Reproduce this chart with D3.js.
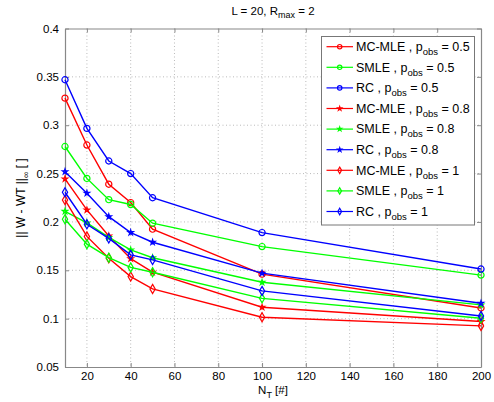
<!DOCTYPE html>
<html><head><meta charset="utf-8">
<script src="https://cdn.jsdelivr.net/npm/d3@7"></script>
<style>
body{margin:0;background:#fff;}
text{font-family:"Liberation Sans",Arial,Helvetica,sans-serif;fill:#000;}
</style></head>
<body><svg id="c" width="494" height="402"></svg>
<script>
const nT = [10, 20, 30, 40, 50, 100, 200];
const mcmle05 = [0.328, 0.2795, 0.239, 0.220, 0.1925, 0.146, 0.111];
const smle05  = [0.278, 0.245, 0.223, 0.218, 0.1987, 0.1745, 0.145];
const rc05    = [0.347, 0.2967, 0.263, 0.250, 0.225, 0.189, 0.1513];
const mcmle08 = [0.2445, 0.2124, 0.1855, 0.162, 0.148, 0.1118, 0.097];
const smle08  = [0.211, 0.199, 0.184, 0.171, 0.163, 0.1376, 0.1142];
const rc08    = [0.252, 0.2297, 0.2055, 0.189, 0.179, 0.147, 0.1159];
const mcmle1  = [0.2227, 0.185, 0.1625, 0.1435, 0.1307, 0.1014, 0.0925];
const smle1   = [0.2028, 0.177, 0.163, 0.153, 0.148, 0.121, 0.1004];
const rc1     = [0.2307, 0.1976, 0.183, 0.1659, 0.1607, 0.1287, 0.1028];
const xTicks = [20, 40, 60, 80, 100, 120, 140, 160, 180, 200];
const yTicks = [0.05, 0.1, 0.15, 0.2, 0.25, 0.3, 0.35, 0.4];
const yTickLabels = ["0.05", "0.1", "0.15", "0.2", "0.25", "0.3", "0.35", "0.4"];

const series = [
  {name:"MC-MLE", p:"0.5", vals:mcmle05, color:"#ff0000", mk:"o"},
  {name:"SMLE",   p:"0.5", vals:smle05,  color:"#00ff00", mk:"o"},
  {name:"RC",     p:"0.5", vals:rc05,    color:"#0000ff", mk:"o"},
  {name:"MC-MLE", p:"0.8", vals:mcmle08, color:"#ff0000", mk:"p"},
  {name:"SMLE",   p:"0.8", vals:smle08,  color:"#00ff00", mk:"p"},
  {name:"RC",     p:"0.8", vals:rc08,    color:"#0000ff", mk:"p"},
  {name:"MC-MLE", p:"1",   vals:mcmle1,  color:"#ff0000", mk:"d"},
  {name:"SMLE",   p:"1",   vals:smle1,   color:"#00ff00", mk:"d"},
  {name:"RC",     p:"1",   vals:rc1,     color:"#0000ff", mk:"d"}
];

const L = 65, R = 481, T = 28.5, B = 367;
const svg = d3.select("#c");
const x = d3.scaleLinear().domain([10, 200]).range([L, R]);
const y = d3.scaleLinear().domain([0.05, 0.4]).range([B, T]);

// grid
const g = svg.append("g");
g.selectAll(".gx").data(xTicks.slice(0, -1)).enter().append("line")
  .attr("x1", d => x(d)).attr("x2", d => x(d)).attr("y1", T).attr("y2", B)
  .attr("stroke", "#aaa").attr("stroke-width", 0.8).attr("stroke-dasharray", "1,2.5");
g.selectAll(".gy").data(yTicks.slice(1, -1)).enter().append("line")
  .attr("x1", L).attr("x2", R).attr("y1", d => y(d)).attr("y2", d => y(d))
  .attr("stroke", "#aaa").attr("stroke-width", 0.8).attr("stroke-dasharray", "1,2.5");

// axes
const axB = svg.append("g").attr("transform", `translate(0,${B})`)
  .call(d3.axisBottom(x).tickValues(xTicks).tickSizeInner(-4).tickSizeOuter(0).tickPadding(5).tickFormat(d3.format("d")));
const axL = svg.append("g").attr("transform", `translate(${L},0)`)
  .call(d3.axisLeft(y).tickValues(yTicks).tickSizeInner(-4).tickSizeOuter(0).tickPadding(6).tickFormat((d,i) => yTickLabels[i]));
const axT = svg.append("g").attr("transform", `translate(0,${T})`)
  .call(d3.axisTop(x).tickValues(xTicks).tickSizeInner(-4).tickSizeOuter(0).tickFormat(""));
const axR = svg.append("g").attr("transform", `translate(${R},0)`)
  .call(d3.axisRight(y).tickValues(yTicks).tickSizeInner(-4).tickSizeOuter(0).tickFormat(""));
[axB, axL, axT, axR].forEach(a => {
  a.selectAll("path").attr("stroke", "#888").attr("stroke-width", 1.2);
  a.selectAll("line").attr("stroke", "#888");
  a.selectAll("text").attr("font-size", 11.5).attr("font-family", "Liberation Sans, Arial, sans-serif").attr("fill", "#000");
});

// markers
function marker(sel, mk, color, scale) {
  const k = scale || 1;
  let sym;
  if (mk === "o") sym = d3.symbol().type(d3.symbolCircle).size(30 * k);
  else if (mk === "p") sym = d3.symbol().type(d3.symbolStar).size(8 * k);
  else sym = d3.symbol().type(d3.symbolDiamond).size(24 * k);
  sel.append("path").attr("d", sym()).attr("fill", "none").attr("stroke", color).attr("stroke-width", mk === "p" ? 1.3 : 1.2);
}

const line = d3.line().x((d,i) => x(nT[i])).y(d => y(d));
const plot = svg.append("g");
series.forEach(s => {
  plot.append("path").datum(s.vals).attr("d", line).attr("fill", "none")
    .attr("stroke", s.color).attr("stroke-width", 1.4);
  s.vals.forEach((v, i) => {
    const m = plot.append("g").attr("transform", `translate(${x(nT[i])},${y(v)})`);
    marker(m, s.mk, s.color);
  });
});

// legend
const lg = svg.append("g");
const lx = 321.5, ly = 36.5, lw = 153, lh = 188.5;
lg.append("rect").attr("x", lx).attr("y", ly).attr("width", lw).attr("height", lh)
  .attr("fill", "#fff").attr("stroke", "#777").attr("stroke-width", 1);
series.forEach((s, i) => {
  const yy = 46.7 + i * 20.6;
  lg.append("line").attr("x1", 326.5).attr("x2", 353).attr("y1", yy).attr("y2", yy)
    .attr("stroke", s.color).attr("stroke-width", 1.2);
  const m = lg.append("g").attr("transform", `translate(339.7,${yy})`);
  marker(m, s.mk, s.color, 0.5);
  const t = lg.append("text").attr("x", 356).attr("y", yy + 4.3).attr("font-size", 12.5);
  t.append("tspan").text(s.name + " , p");
  t.append("tspan").attr("font-size", 9.5).attr("dy", 4).text("obs");
  t.append("tspan").attr("dy", -4).text(" = " + s.p);
});

// title
const tt = svg.append("text").attr("x", 273).attr("y", 14.5).attr("text-anchor", "middle").attr("font-size", 11.5);
tt.append("tspan").text("L = 20, R");
tt.append("tspan").attr("font-size", 9).attr("dy", 3.5).text("max");
tt.append("tspan").attr("dy", -3.5).text(" = 2");

// x label
const xl = svg.append("text").attr("x", 273).attr("y", 394).attr("text-anchor", "middle").attr("font-size", 11.5);
xl.append("tspan").text("N");
xl.append("tspan").attr("font-size", 9).attr("dy", 3.5).text("T");
xl.append("tspan").attr("dy", -3.5).text(" [#]");

// y label
const yl = svg.append("text").attr("transform", "translate(25,198) rotate(-90)").attr("text-anchor", "middle").attr("font-size", 12);
yl.append("tspan").text("|| W - WT ||");
yl.append("tspan").attr("font-size", 9).attr("dy", 4).text("∞");
yl.append("tspan").attr("dy", -4).text(" [ ]");
</script></body></html>
